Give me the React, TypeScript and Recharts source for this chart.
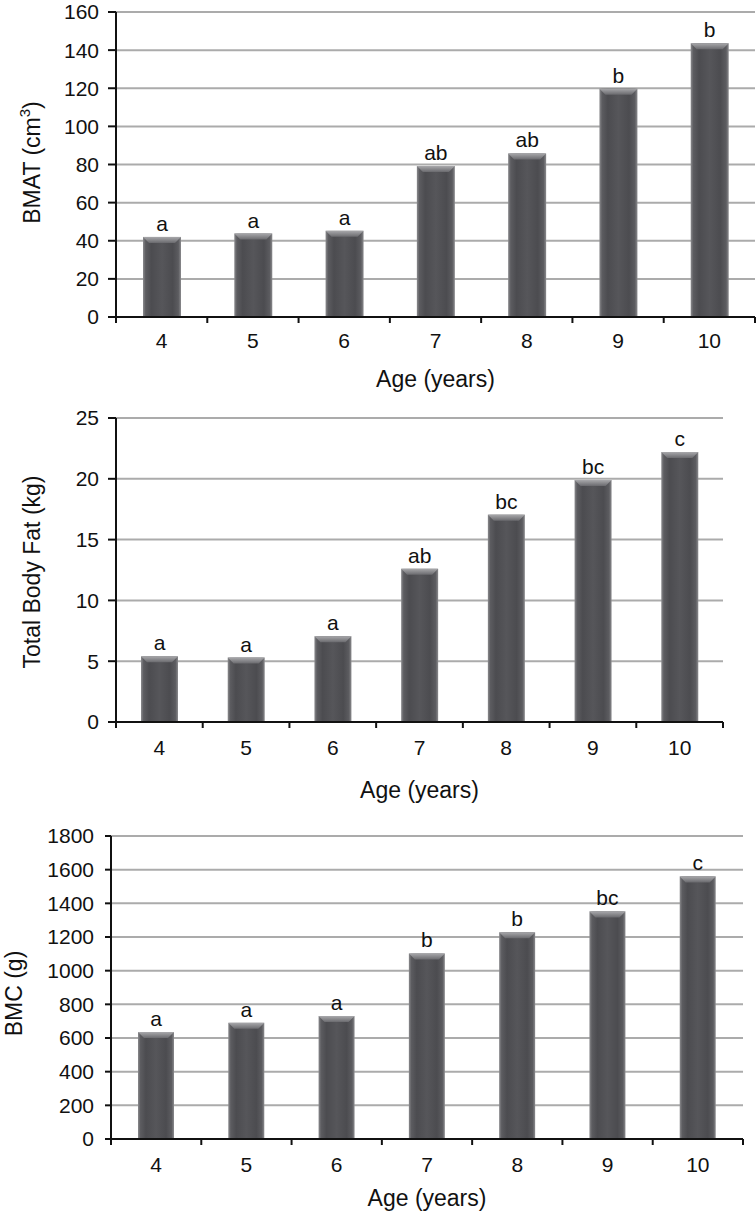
import React from 'react';
import { BarChart, Bar, XAxis, YAxis, CartesianGrid, LabelList } from 'recharts';

// ---- data ----
const ages = [4, 5, 6, 7, 8, 9, 10];
const tickBoundaries = [3.5, 4, 4.5, 5, 5.5, 6, 6.5, 7, 7.5, 8, 8.5, 9, 9.5, 10, 10.5];

const bmatValues = [42, 43.8, 45.2, 79.2, 85.8, 119.8, 143.6];
const bmatSig = ['a', 'a', 'a', 'ab', 'ab', 'b', 'b'];
const bmatTicks = [0, 20, 40, 60, 80, 100, 120, 140, 160];

const fatValues = [5.4, 5.3, 7.05, 12.6, 17.05, 19.9, 22.2];
const fatSig = ['a', 'a', 'a', 'ab', 'bc', 'bc', 'c'];
const fatTicks = [0, 5, 10, 15, 20, 25];

const bmcValues = [635, 690, 730, 1102, 1228, 1352, 1560];
const bmcSig = ['a', 'a', 'a', 'b', 'b', 'bc', 'c'];
const bmcTicks = [0, 200, 400, 600, 800, 1000, 1200, 1400, 1600, 1800];

const build = (vals: number[], sig: string[]) =>
  ages.map((age, i) => ({ age, value: vals[i], sig: sig[i] }));

const FONT = '"Liberation Sans", Arial, Helvetica, sans-serif';

const BarShape = (props: any) => {
  const { x, y, width, height } = props;
  if (!height || height <= 0) return null;
  const b = Math.min(6, height);
  return (
    <g>
      <rect x={x} y={y} width={width} height={height} fill="url(#barGrad)" />
      <path
        d={`M${x},${y} L${x + width},${y} L${x + width - 6},${y + b} L${x + 6},${y + b} Z`}
        fill="url(#bevelGrad)"
      />
    </g>
  );
};

const makeXTick = (gap: number) => (props: any) => {
  const { x, y, payload } = props;
  const v = payload.value;
  const axisY = y - gap;
  if (v % 1 !== 0) {
    return <line x1={x} x2={x} y1={axisY} y2={axisY + 6} stroke="#111" strokeWidth={2} />;
  }
  return (
    <text x={x} y={y} dy="0.71em" textAnchor="middle" fontSize={21} fill="#111" fontFamily={FONT}>
      {v}
    </text>
  );
};

type PanelProps = {
  top: number;
  height: number;
  marginTop: number;
  marginRight: number;
  yWidth: number;
  xHeight: number;
  xGap: number;
  ytickSize: number;
  domainMax: number;
  yticks: number[];
  data: any[];
  barSize: number;
  titleX: number;
  titleDy: number;
  title: React.ReactNode;
};

const Panel = (p: PanelProps) => {
  const XTick = makeXTick(p.xGap);
  return (
    <div style={{ position: 'absolute', left: 0, top: p.top }}>
      <BarChart
        width={756}
        height={p.height}
        data={p.data}
        margin={{ top: p.marginTop, right: p.marginRight, left: 0, bottom: 0 }}
      >
        <CartesianGrid vertical={false} stroke="#ababab" strokeWidth={2} />
        <XAxis
          dataKey="age"
          type="number"
          domain={[3.5, 10.5]}
          ticks={tickBoundaries}
          interval={0}
          height={p.xHeight}
          tickLine={false}
          tickSize={6}
          tickMargin={p.xGap - 6}
          axisLine={{ stroke: '#111', strokeWidth: 2 }}
          tick={<XTick />}
          label={{
            value: 'Age (years)',
            position: 'insideBottom',
            offset: 5,
            fontSize: 23,
            fill: '#111',
            fontFamily: FONT,
          }}
        />
        <YAxis
          type="number"
          width={p.yWidth}
          domain={[0, p.domainMax]}
          ticks={p.yticks}
          interval={0}
          tickSize={p.ytickSize}
          tickMargin={17 - p.ytickSize}
          tickLine={{ stroke: '#111', strokeWidth: 2 }}
          axisLine={{ stroke: '#111', strokeWidth: 2 }}
          tick={{ fontSize: 21, fill: '#111', fontFamily: FONT }}
          label={{
            content: (lp: any) => {
              const vb = lp.viewBox || {};
              const cx = p.titleX;
              const cy = vb.y + vb.height / 2 + p.titleDy;
              return (
                <text
                  x={cx}
                  y={cy}
                  transform={`rotate(-90, ${cx}, ${cy})`}
                  textAnchor="middle"
                  dominantBaseline="central"
                  fontSize={23}
                  fill="#111"
                  fontFamily={FONT}
                >
                  {p.title}
                </text>
              );
            },
          }}
        />
        <Bar dataKey="value" barSize={p.barSize} shape={<BarShape />} isAnimationActive={false}>
          <LabelList dataKey="sig" position="top" offset={6} fill="#111" fontSize={21} fontFamily={FONT} />
        </Bar>
      </BarChart>
    </div>
  );
};

export default function App() {
  return (
    <div
      style={{
        position: 'absolute',
        left: 0,
        top: 0,
        width: 756,
        height: 1216,
        background: '#fff',
        fontFamily: FONT,
        overflow: 'hidden',
      }}
    >
      <svg width={0} height={0} style={{ position: 'absolute' }}>
        <defs>
          <linearGradient id="barGrad" x1="0" y1="0" x2="1" y2="0">
            <stop offset="0%" stopColor="#8a8a8d" />
            <stop offset="7%" stopColor="#5c5c60" />
            <stop offset="22%" stopColor="#4c4c50" />
            <stop offset="50%" stopColor="#56565a" />
            <stop offset="78%" stopColor="#4c4c50" />
            <stop offset="93%" stopColor="#5c5c60" />
            <stop offset="100%" stopColor="#8a8a8d" />
          </linearGradient>
          <linearGradient id="bevelGrad" x1="0" y1="0" x2="0" y2="1">
            <stop offset="0%" stopColor="#a8a8ab" />
            <stop offset="100%" stopColor="#6a6a6e" />
          </linearGradient>
        </defs>
      </svg>
      <Panel
        top={0}
        height={392}
        marginTop={12}
        marginRight={1}
        yWidth={116}
        xHeight={75}
        xGap={16}
        ytickSize={8}
        domainMax={160}
        yticks={bmatTicks}
        data={build(bmatValues, bmatSig)}
        barSize={38}
        titleX={32}
        titleDy={-2}
        title={
          <>
            BMAT (cm
            <tspan dy={-8} fontSize={15}>3</tspan>
            <tspan dy={8}>)</tspan>
          </>
        }
      />
      <Panel
        top={400}
        height={403}
        marginTop={18}
        marginRight={33}
        yWidth={116}
        xHeight={81}
        xGap={18}
        ytickSize={8}
        domainMax={25}
        yticks={fatTicks}
        data={build(fatValues, fatSig)}
        barSize={37}
        titleX={32}
        titleDy={2}
        title="Total Body Fat (kg)"
      />
      <Panel
        top={820}
        height={391}
        marginTop={16}
        marginRight={13}
        yWidth={111}
        xHeight={72}
        xGap={18}
        ytickSize={6}
        domainMax={1800}
        yticks={bmcTicks}
        data={build(bmcValues, bmcSig)}
        barSize={36}
        titleX={14}
        titleDy={6}
        title="BMC (g)"
      />
    </div>
  );
}
